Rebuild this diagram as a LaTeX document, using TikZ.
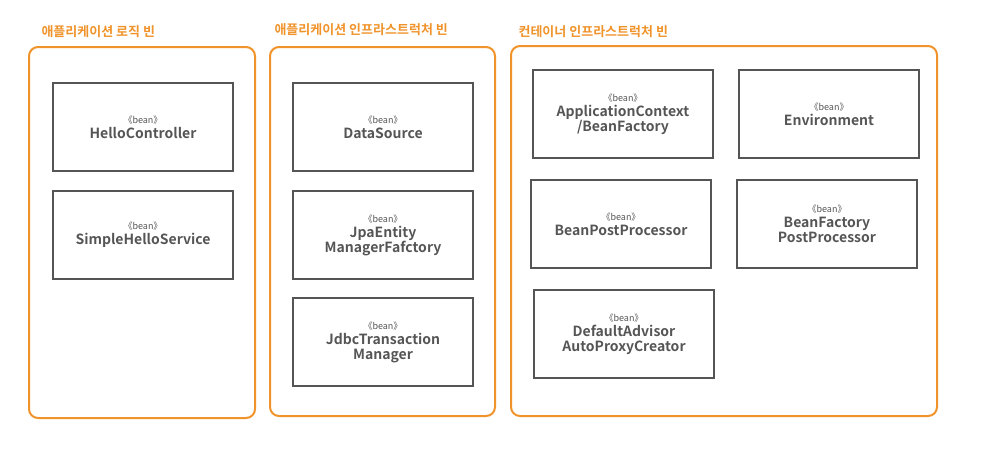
\documentclass[tikz,border=0pt]{standalone}
\usepackage{fontspec}
\setmainfont{Noto Sans CJK KR}[BoldFont={* Bold}]
\definecolor{boxorange}{HTML}{F0932B}
\definecolor{beangray}{HTML}{555555}
\tikzset{
  group/.style={draw=boxorange, line width=2pt, rounded corners=9pt},
  grouptitle/.style={anchor=west, text=boxorange, font=\bfseries\fontsize{13}{13}\selectfont},
  bean/.style={draw=beangray, line width=2pt, minimum width=180pt, minimum height=88pt, anchor=north west,
    align=center, text=beangray, font=\bfseries\fontsize{14}{17}\selectfont},
}
\newcommand{\beanlbl}[1]{{\fontsize{9}{10}\selectfont\mdseries 《bean》}\\[-2pt]#1}
\begin{document}
\begin{tikzpicture}[x=1pt,y=-1pt]
  \useasboundingbox (0,0) rectangle (992,451);

  % groups
  \draw[group] (29,47) rectangle (255,418);
  \draw[group] (270,47) rectangle (495,416);
  \draw[group] (511,46) rectangle (937,416);
  \node[grouptitle] (t1) at (38,32) {애플리케이션 로직 빈};
  \node[grouptitle] (t2) at (271,30) {애플리케이션 인프라스트럭처 빈};
  \node[grouptitle] (t3) at (515,32) {컨테이너 인프라스트럭처 빈};

  % application beans
  \node[bean] (hello) at (52,82) {\beanlbl{HelloController}};
  \node[bean] (service) at (52,190) {\beanlbl{SimpleHelloService}};

  % infrastructure beans
  \node[bean] (ds) at (292,82) {\beanlbl{DataSource}};
  \node[bean] (jpa) at (292,190) {\beanlbl{JpaEntity\\[-2pt]ManagerFafctory}};
  \node[bean] (tx) at (292,297) {\beanlbl{JdbcTransaction\\[-2pt]Manager}};

  % container beans
  \node[bean] (ctx) at (532,69) {\beanlbl{ApplicationContext\\[-2pt]/BeanFactory}};
  \node[bean] (env) at (738,69) {\beanlbl{Environment}};
  \node[bean] (bpp) at (530,179) {\beanlbl{BeanPostProcessor}};
  \node[bean] (bfpp) at (736,179) {\beanlbl{BeanFactory\\[-2pt]PostProcessor}};
  \node[bean] (apc) at (533,289) {\beanlbl{DefaultAdvisor\\[-2pt]AutoProxyCreator}};
\end{tikzpicture}
\end{document}
